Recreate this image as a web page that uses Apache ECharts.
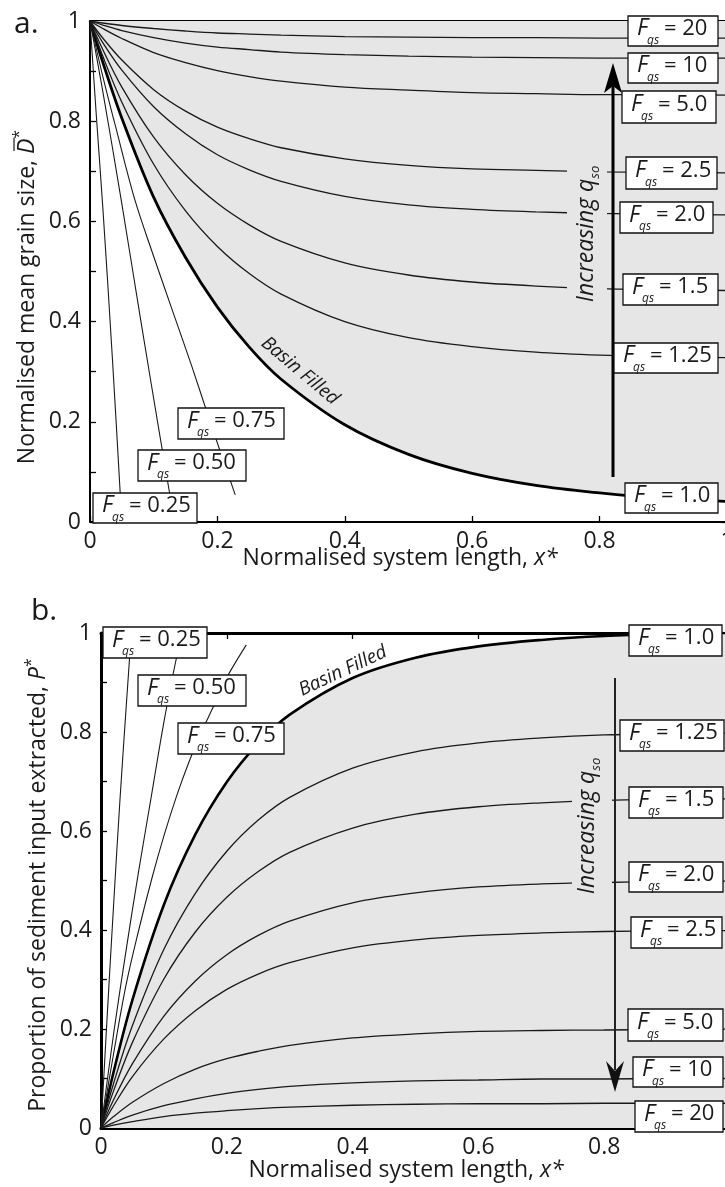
<!DOCTYPE html>
<html><head><meta charset="utf-8">
<script src="https://cdn.jsdelivr.net/npm/echarts@6/dist/echarts.min.js"></script>
<style>html,body{margin:0;padding:0;background:#fff}#c{width:725px;height:1187px}</style>
</head><body><div id="c"></div>
<script>
// ---------- DATA ----------
// Panel a: normalised mean grain size D* vs normalised system length x*
const xA = [0, 0.02, 0.05, 0.1, 0.15, 0.2, 0.25, 0.3, 0.4, 0.5, 0.6, 0.7, 0.8, 0.9, 1.0];
const aF20  = [1, 0.996, 0.991, 0.985, 0.980, 0.976, 0.974, 0.972, 0.969, 0.968, 0.967, 0.967, 0.966, 0.966, 0.966];
const aF10  = [1, 0.992, 0.981, 0.967, 0.956, 0.948, 0.943, 0.938, 0.933, 0.930, 0.928, 0.927, 0.926, 0.926, 0.926];
const aF5   = [1, 0.985, 0.965, 0.937, 0.917, 0.901, 0.889, 0.880, 0.868, 0.862, 0.857, 0.855, 0.853, 0.853, 0.852];
const aF2_5 = [1, 0.966, 0.922, 0.863, 0.820, 0.788, 0.765, 0.747, 0.725, 0.712, 0.705, 0.702, 0.699, 0.698, 0.697];
const aF2_0 = [1, 0.957, 0.902, 0.829, 0.775, 0.733, 0.703, 0.680, 0.650, 0.633, 0.624, 0.619, 0.616, 0.614, 0.613];
const aF1_5 = [1, 0.943, 0.868, 0.768, 0.693, 0.636, 0.593, 0.560, 0.517, 0.493, 0.479, 0.471, 0.466, 0.464, 0.462];
const aF1_25= [1, 0.930, 0.838, 0.714, 0.621, 0.550, 0.496, 0.455, 0.400, 0.368, 0.350, 0.339, 0.333, 0.330, 0.328];
const aF1_0 = [1, 0.918, 0.806, 0.648, 0.528, 0.429, 0.349, 0.285, 0.194, 0.135, 0.097, 0.073, 0.058, 0.047, 0.041];
const aF075x = [0, 0.02, 0.04, 0.07, 0.1, 0.13, 0.16, 0.19, 0.228];
const aF075  = [1, 0.89, 0.79, 0.645, 0.53, 0.42, 0.31, 0.195, 0.054];
const aF050x = [0, 0.02, 0.05, 0.08, 0.11, 0.13];
const aF050  = [1, 0.86, 0.635, 0.40, 0.17, 0.02];
const aF025x = [0, 0.01, 0.02, 0.035, 0.05];
const aF025  = [1, 0.81, 0.63, 0.33, 0.0];

// Panel b: proportion of sediment input extracted P* vs x*
const xB = [0, 0.02, 0.05, 0.1, 0.15, 0.2, 0.25, 0.3, 0.4, 0.5, 0.6, 0.7, 0.8, 0.9, 1.0];
const bF1_0 = [0, 0.113, 0.259, 0.451, 0.593, 0.699, 0.777, 0.835, 0.909, 0.950, 0.973, 0.986, 0.994, 0.998, 1.0];
const bF1_25= [0, 0.090, 0.207, 0.361, 0.474, 0.559, 0.622, 0.668, 0.727, 0.760, 0.778, 0.788, 0.794, 0.796, 0.798];
const bF1_5 = [0, 0.075, 0.173, 0.301, 0.396, 0.466, 0.518, 0.557, 0.606, 0.634, 0.649, 0.657, 0.662, 0.664, 0.665];
const bF2_0 = [0, 0.057, 0.130, 0.226, 0.297, 0.350, 0.389, 0.418, 0.455, 0.475, 0.487, 0.493, 0.496, 0.498, 0.499];
const bF2_5 = [0, 0.045, 0.104, 0.180, 0.237, 0.280, 0.311, 0.334, 0.364, 0.380, 0.389, 0.394, 0.397, 0.398, 0.399];
const bF5   = [0, 0.023, 0.052, 0.090, 0.119, 0.140, 0.155, 0.167, 0.182, 0.190, 0.195, 0.197, 0.198, 0.199, 0.200];
const bF10  = [0, 0.011, 0.026, 0.045, 0.059, 0.070, 0.078, 0.084, 0.091, 0.095, 0.097, 0.099, 0.099, 0.100, 0.100];
const bF20  = [0, 0.006, 0.013, 0.023, 0.030, 0.035, 0.039, 0.042, 0.046, 0.048, 0.049, 0.049, 0.050, 0.050, 0.050];
const bF075x = [0, 0.02, 0.04, 0.06, 0.08, 0.1, 0.12, 0.14, 0.16, 0.18, 0.2, 0.231];
const bF075  = [0, 0.15, 0.29, 0.40, 0.50, 0.59, 0.67, 0.74, 0.80, 0.855, 0.91, 0.976];
const bF050x = [0, 0.02, 0.04, 0.06, 0.08, 0.1, 0.12, 0.13];
const bF050  = [0, 0.19, 0.36, 0.52, 0.67, 0.82, 0.95, 1.0];
const bF025x = [0, 0.01, 0.02, 0.03, 0.04, 0.046];
const bF025  = [0, 0.23, 0.45, 0.66, 0.85, 0.96];

// Label boxes (annotation layout: left, top, width, height, F value)
const boxesA = [[628,16,90,30,'20'],[628,53,90,30,'10'],[622,91,94,32,'5.0'],[626,157,91,32,'2.5'],
  [620,202,93,31,'2.0'],[623,274,95,31,'1.5'],[614,343,104,30,'1.25'],[625,483,93,30,'1.0'],
  [178,408,106,31,'0.75'],[138,450,108,31,'0.50'],[93,493,104,30,'0.25']];
const boxesB = [[103,627,104,31,'0.25'],[138,675,108,31,'0.50'],[178,723,106,31,'0.75'],
  [629,625,93,31,'1.0'],[620,720,104,31,'1.25'],[629,787,94,31,'1.5'],[629,862,94,30,'2.0'],
  [631,917,91,31,'2.5'],[628,1009,95,32,'5.0'],[633,1057,90,30,'10'],[635,1101,88,31,'20']];

// ---------- STYLE ----------
const FONT = '"Open Sans", "Noto Sans", sans-serif';
const GREY = '#e6e6e6';
const INK = '#1a1a1a';

function pts(xs, ys){ return xs.map((x,i)=>[x, ys[i]]); }
function line(xs, ys, gi, extra){
  return Object.assign({type:'line', xAxisIndex: gi*2, yAxisIndex: gi*2, data: pts(xs, ys),
    showSymbol:false, symbol:'none', smooth:0.35, silent:true, z:2,
    lineStyle:{color:INK, width:1.3}}, extra||{});
}
function xAx(gi, pos, lw, labels){
  return {type:'value', gridIndex:gi, position:pos, min:0, max:1, interval:0.2,
    axisLine:{show:true, onZero:false, lineStyle:{color:'#000', width:lw}},
    axisTick:{show:true, inside:true, length:6, lineStyle:{color:'#000', width:1.3}},
    axisLabel:{show:labels, margin:8, fontSize:23, color:INK, fontFamily:FONT, showMaxLabel: gi===0},
    splitLine:{show:false}};
}
function yAx(gi, pos, lw, labels){
  return {type:'value', gridIndex:gi, position:pos, min:0, max:1, interval:0.2,
    axisLine:{show:true, onZero:false, lineStyle:{color:'#000', width:lw}},
    axisTick:{show:true, inside:true, length:6, lineStyle:{color:'#000', width:1.3}},
    minorTick:{show:true, splitNumber:2, length:6, lineStyle:{color:'#000', width:1.3}},
    axisLabel:{show:labels, margin:9, fontSize:23, color:INK, fontFamily:FONT},
    splitLine:{show:false}, minorSplitLine:{show:false}};
}

// ---------- ANNOTATIONS ----------
const G = [];
const mctx = document.createElement('canvas').getContext('2d');
function tw(t, font){ mctx.font = font; return mctx.measureText(t).width; }
function txt(x, y, t, font, rot, z){
  G.push({type:'text', x:x, y:y, rotation:rot||0, z:z||120, silent:true,
    style:{text:t, font:font, fill:INK, align:'left', textAlign:'left',
      verticalAlign:'middle', textVerticalAlign:'middle'}});
}
function runs(cx, cy, th, parts, z){
  const c = Math.cos(th), s = Math.sin(th);
  const widths = parts.map(p=>tw(p.t, p.font));
  let u = -widths.reduce((a,b)=>a+b,0)/2;
  parts.forEach((p,i)=>{
    const v = p.v||0;
    txt(cx + u*c + v*s, cy - u*s + v*c, p.t, p.font, th, z);
    if (p.over){
      const u1 = u + 3, u2 = u + widths[i] + 1, vv = -13;
      G.push({type:'line', z:z||120, silent:true,
        shape:{x1:cx+u1*c+vv*s, y1:cy-u1*s+vv*c, x2:cx+u2*c+vv*s, y2:cy-u2*s+vv*c},
        style:{stroke:INK, lineWidth:1.2}});
    }
    u += widths[i];
  });
}
function fbox(b){
  const [x,y,w,h,v] = b;
  G.push({type:'rect', z:110, silent:true, shape:{x:x,y:y,width:w,height:h},
    style:{fill:'#fff', stroke:'#111', lineWidth:1.3}});
  const cy = y + h*0.42;
  txt(x+9, cy, 'F', 'italic 23px '+FONT);
  txt(x+19, cy+12, 'qs', 'italic 12px '+FONT);
  txt(x+36, cy, '= '+v, '22px '+FONT);
}

// panel letters
txt(14, 24, 'a.', '30px '+FONT);
txt(31, 611, 'b.', '30px '+FONT);
// axis titles
const T = '23px '+FONT, TI = 'italic 23px '+FONT;
runs(400, 558, 0, [{t:'Normalised system length, ', font:T},{t:'x*', font:TI}]);
runs(406, 1170, 0, [{t:'Normalised system length, ', font:T},{t:'x*', font:TI}]);
runs(27, 297, Math.PI/2, [{t:'Normalised mean grain size, ', font:T},{t:'D', font:TI, over:true},{t:'*', font:'16px '+FONT, v:-8}]);
runs(38, 885, Math.PI/2, [{t:'Proportion of sediment input extracted, ', font:T},{t:'P', font:TI},{t:'*', font:'16px '+FONT, v:-7}]);

// "Increasing q_so" with gaps in the curves
const TQ = 'italic 23px '+FONT;
G.push({type:'rect', z:60, silent:true, shape:{x:567,y:160,width:40,height:146}, style:{fill:GREY}});
G.push({type:'rect', z:60, silent:true, shape:{x:572,y:756,width:40,height:140}, style:{fill:GREY}});
runs(586, 234, Math.PI/2, [{t:'Increasing ', font:TQ},{t:'q', font:TQ},{t:'so', font:'italic 13px '+FONT, v:9}], 70);
runs(587, 826, Math.PI/2, [{t:'Increasing ', font:TQ},{t:'q', font:TQ},{t:'so', font:'italic 13px '+FONT, v:9}], 70);
// arrows
G.push({type:'line', z:80, silent:true, shape:{x1:613,y1:477,x2:613,y2:84}, style:{stroke:'#000', lineWidth:3}});
G.push({type:'polygon', z:80, silent:true, shape:{points:[[613,63],[604,93],[613,86],[622,93]]}, style:{fill:'#000'}});
G.push({type:'line', z:80, silent:true, shape:{x1:615,y1:678,x2:615,y2:1070}, style:{stroke:'#222', lineWidth:2}});
G.push({type:'polygon', z:80, silent:true, shape:{points:[[615,1092],[606,1061],[615,1071],[624,1061]]}, style:{fill:'#111'}});

// "Basin Filled"
runs(300, 371, -40*Math.PI/180, [{t:'Basin Filled', font:'italic 19px '+FONT}]);
runs(343, 671, 25*Math.PI/180, [{t:'Basin Filled', font:'italic 19px '+FONT}]);

boxesA.forEach(fbox);
boxesB.forEach(fbox);

// ---------- CHART ----------
const chart = echarts.init(document.getElementById('c'), null, {renderer:'canvas'});
chart.setOption({
  animation:false,
  backgroundColor:'#fff',
  grid:[
    {left:90, top:21, width:637, height:501, containLabel:false, outerBoundsMode:'none'},
    {left:101, top:633, width:629, height:495, containLabel:false, outerBoundsMode:'none'}
  ],
  xAxis:[xAx(0,'bottom',2,true), xAx(0,'top',2,false), xAx(1,'bottom',3,true), xAx(1,'top',3,false)],
  yAxis:[yAx(0,'left',2,true), yAx(0,'right',2,false), yAx(1,'left',3,true), yAx(1,'right',3,false)],
  series:[
    line(xA, aF1_0, 0, {z:1, lineStyle:{color:'#000', width:2.8}, areaStyle:{color:GREY, opacity:1, origin:'end'}}),
    line(xA, aF20, 0), line(xA, aF10, 0), line(xA, aF5, 0), line(xA, aF2_5, 0),
    line(xA, aF2_0, 0), line(xA, aF1_5, 0), line(xA, aF1_25, 0),
    line(aF075x, aF075, 0, {lineStyle:{color:INK, width:1.1}}),
    line(aF050x, aF050, 0, {lineStyle:{color:INK, width:1.1}}),
    line(aF025x, aF025, 0, {lineStyle:{color:INK, width:1.1}}),

    line(xB, bF1_0, 1, {z:1, lineStyle:{color:'#000', width:2.6}, areaStyle:{color:GREY, opacity:1, origin:'start'}}),
    line(xB, bF1_25, 1), line(xB, bF1_5, 1), line(xB, bF2_0, 1), line(xB, bF2_5, 1),
    line(xB, bF5, 1), line(xB, bF10, 1), line(xB, bF20, 1),
    line(bF075x, bF075, 1, {lineStyle:{color:INK, width:1.1}}),
    line(bF050x, bF050, 1, {lineStyle:{color:INK, width:1.1}}),
    line(bF025x, bF025, 1, {lineStyle:{color:INK, width:1.1}})
  ],
  graphic:{elements:G}
});
</script>
</body></html>
